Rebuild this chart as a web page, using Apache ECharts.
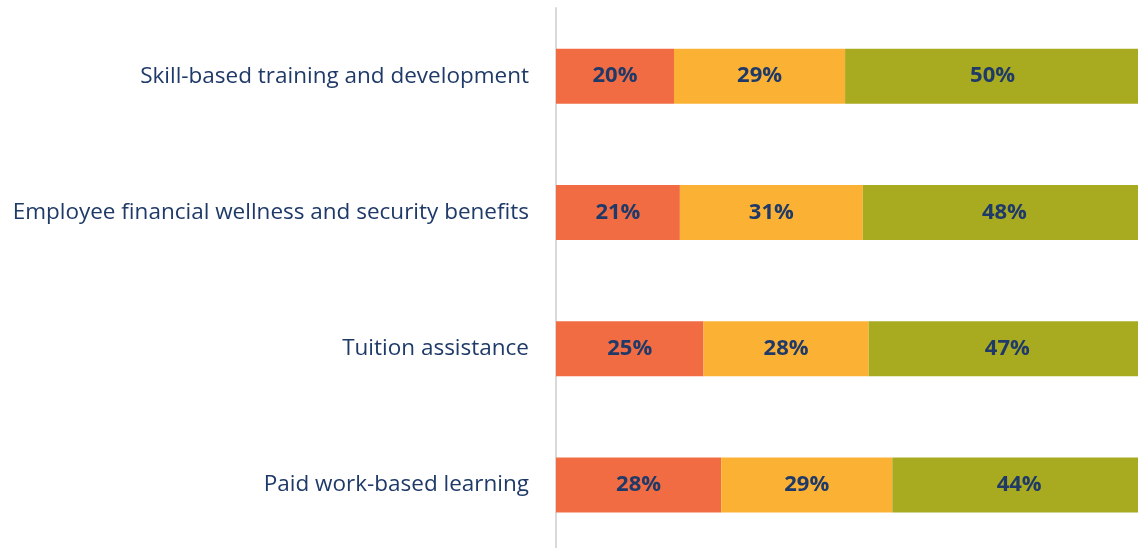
<!DOCTYPE html>
<html>
<head>
<meta charset="utf-8">
<script src="https://cdn.jsdelivr.net/npm/echarts@6/dist/echarts.min.js"></script>
<style>
  html, body { margin: 0; padding: 0; background: #ffffff; }
  #chart { width: 1138px; height: 548px; }
</style>
</head>
<body>
<div id="chart"></div>
<script>
// Benefit categories, top to bottom
const categories = [
  'Skill-based training and development',
  'Employee financial wellness and security benefits',
  'Tuition assistance',
  'Paid work-based learning'
];
// Share of respondents (%) in each response group
const seriesA = [20, 21, 25, 28];
const seriesB = [29, 31, 28, 29];
const seriesC = [50, 48, 47, 44];

const colors = ['#F26C43', '#FBB234', '#A8AA20'];
const labelColor = '#1F3A68';

function makeSeries(name, data, color) {
  return {
    name: name,
    type: 'bar',
    stack: 'total',
    data: data,
    barWidth: 55,
    itemStyle: { color: color },
    label: {
      show: true,
      position: 'inside',
      formatter: '{c}%',
      color: labelColor,
      fontFamily: 'Open Sans',
      fontWeight: 'bold',
      fontSize: 22
    }
  };
}

const chart = echarts.init(document.getElementById('chart'), null, { renderer: 'canvas' });
chart.setOption({
  animation: false,
  // The plot area runs slightly past the right and bottom edges of the canvas
  grid: {
    left: 556, top: 8, width: 590, height: 545,
    containLabel: false,
    outerBoundsMode: 'none'
  },
  xAxis: {
    type: 'value',
    min: 0,
    max: 100,
    show: false
  },
  yAxis: {
    type: 'category',
    inverse: true,
    data: categories,
    axisLine: { show: true, lineStyle: { color: '#D9D9D9', width: 2 } },
    axisTick: { show: false },
    axisLabel: {
      color: labelColor,
      fontFamily: 'Open Sans',
      fontSize: 22.5,
      margin: 27
    }
  },
  series: [
    makeSeries('A', seriesA, colors[0]),
    makeSeries('B', seriesB, colors[1]),
    makeSeries('C', seriesC, colors[2])
  ]
});
</script>
</body>
</html>
